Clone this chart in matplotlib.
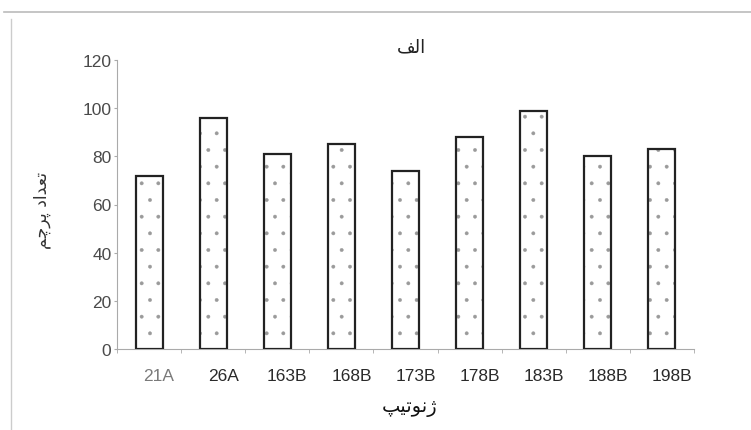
import matplotlib
matplotlib.use("Agg")
import matplotlib.pyplot as plt
import matplotlib.transforms as mtransforms
from matplotlib.lines import Line2D

# data
genotypes = ['21A', '26A', '163B', '168B', '173B', '178B', '183B', '188B', '198B']
counts = [72, 96, 81, 85, 74, 88, 99, 80, 83]
yticks = [0, 20, 40, 60, 80, 100, 120]

title_txt = 'الف'
ylabel_txt = 'تعداد پرچم'
xlabel_txt = 'ژنوتیپ'

# minimal Arabic shaping (matplotlib does no shaping / bidi)
FORMS = {
    'ا': ('\uFE8D', '\uFE8E', None, None),
    'ل': ('\uFEDD', '\uFEDE', '\uFEDF', '\uFEE0'),
    'ف': ('\uFED1', '\uFED2', '\uFED3', '\uFED4'),
    'ت': ('\uFE95', '\uFE96', '\uFE97', '\uFE98'),
    'ع': ('\uFEC9', '\uFECA', '\uFECB', '\uFECC'),
    'د': ('\uFEA9', '\uFEAA', None, None),
    'پ': ('\uFB56', '\uFB57', '\uFB58', '\uFB59'),
    'ر': ('\uFEAD', '\uFEAE', None, None),
    'چ': ('\uFB7A', '\uFB7B', '\uFB7C', '\uFB7D'),
    'م': ('\uFEE1', '\uFEE2', '\uFEE3', '\uFEE4'),
    'ژ': ('\uFB8A', '\uFB8B', None, None),
    'ن': ('\uFEE5', '\uFEE6', '\uFEE7', '\uFEE8'),
    'و': ('\uFEED', '\uFEEE', None, None),
    'ی': ('\uFBFC', '\uFBFD', '\uFEF3', '\uFEF4'),
}


def shape(s):
    out = []
    for i, ch in enumerate(s):
        if ch not in FORMS:
            out.append(ch)
            continue
        prev = s[i - 1] if i > 0 else ''
        nxt = s[i + 1] if i + 1 < len(s) else ''
        join_prev = prev in FORMS and FORMS[prev][2] is not None
        join_next = nxt in FORMS and FORMS[ch][2] is not None
        iso, fin, ini, med = FORMS[ch]
        if join_prev and join_next:
            out.append(med)
        elif join_prev:
            out.append(fin)
        elif join_next:
            out.append(ini)
        else:
            out.append(iso)
    return ''.join(out)[::-1]


plt.rcParams['font.family'] = ['Liberation Sans', 'DejaVu Sans']
plt.rcParams['hatch.linewidth'] = 0.3

fig = plt.figure(figsize=(7.51, 4.31), dpi=100)
ax = fig.add_axes([117 / 751, 1 - 350 / 431, 577 / 751, 289 / 431])

x = list(range(len(genotypes)))
# dotted fill (hatch takes the edge colour), then the dark outline on top
ax.bar(x, counts, width=0.42, color='white', edgecolor='#9a9a9a',
       linewidth=0, hatch='.', zorder=3)
ax.bar(x, counts, width=0.42, fill=False, edgecolor='#222222',
       linewidth=1.6, zorder=4)

ax.set_xlim(-0.5, len(genotypes) - 0.5)
ax.set_ylim(0, 120)
ax.set_yticks(yticks)
ax.set_yticklabels([str(v) for v in yticks], fontsize=12.5, color='#4a4a4a')
ax.set_xticks(x)
ax.set_xticklabels(genotypes, fontsize=12.5, color='#2a2a2a')
ax.set_xticks([i - 0.5 for i in range(len(genotypes) + 1)], minor=True)
ax.tick_params(axis='x', which='major', length=0, pad=14)
ax.tick_params(axis='x', which='minor', length=3, color='#aaaaaa', direction='out')
ax.tick_params(axis='y', length=2, color='#aaaaaa', pad=2)
ax.get_xticklabels()[0].set_color('#7a7a7a')

# labels sit a bit to the right of the bars in the reference
offset = mtransforms.ScaledTranslation(0.10, 0, fig.dpi_scale_trans)
for lab in ax.get_xticklabels():
    lab.set_transform(lab.get_transform() + offset)

for side in ['top', 'right']:
    ax.spines[side].set_visible(False)
for side in ['left', 'bottom']:
    ax.spines[side].set_color('#aaaaaa')
    ax.spines[side].set_linewidth(0.8)

fig.text(411 / 751, 1 - 47 / 431, shape(title_txt), ha='center', va='center',
         fontsize=13, family='DejaVu Sans', color='#222222')
fig.text(42 / 751, 1 - 210 / 431, shape(ylabel_txt), ha='center', va='center',
         rotation=90, fontsize=12.5, family='DejaVu Sans', color='#333333')
fig.text(410 / 751, 1 - 408 / 431, shape(xlabel_txt), ha='center', va='center',
         fontsize=14, family='DejaVu Sans', color='#111111')

# scanned frame edges
fig.add_artist(Line2D([0.005, 1.0], [1 - 13 / 431, 1 - 13 / 431],
                      transform=fig.transFigure, color='#bbbbbb', lw=1.2))
fig.add_artist(Line2D([11 / 751, 11 / 751], [0, 1 - 20 / 431],
                      transform=fig.transFigure, color='#cccccc', lw=1.0))

fig.savefig('out.png', dpi=100)
